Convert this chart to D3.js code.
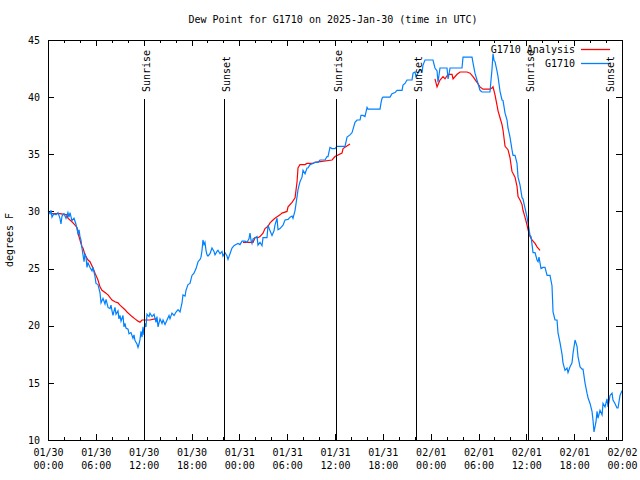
<!DOCTYPE html>
<html><head><meta charset="utf-8">
<script src="https://cdn.jsdelivr.net/npm/d3@7"></script>
<style>
body{margin:0;background:#fff}
svg{display:block}
text{font-family:"DejaVu Sans Mono","Liberation Mono",monospace;font-size:10px;fill:#000}
</style></head><body>
<svg id="c" width="640" height="480"></svg>
<script>
// hours since 2025-01-30 00:00 UTC
const obsHours=[0.0,0.25,0.38,0.5,0.75,1.0,1.25,1.5,1.63,1.76,2.0,2.26,2.5,2.63,2.76,3.0,3.26,3.5,3.76,3.89,4.01,4.14,4.26,4.52,4.64,4.77,4.89,5.02,5.27,5.52,5.64,5.9,6.02,6.27,6.52,6.65,6.9,7.15,7.28,7.53,7.78,7.9,8.03,8.15,8.4,8.53,8.78,8.9,9.03,9.16,9.41,9.53,9.66,9.78,10.04,10.16,10.41,10.66,10.79,10.91,11.16,11.29,11.42,11.54,11.67,11.79,11.92,12.04,12.17,12.29,12.42,12.67,12.79,13.05,13.3,13.55,13.67,13.8,14.05,14.3,14.43,14.68,14.93,15.18,15.3,15.55,15.81,16.06,16.31,16.56,16.81,16.93,17.19,17.31,17.56,17.81,18.06,18.31,18.57,18.82,19.07,19.19,19.32,19.44,19.57,19.69,19.82,19.95,20.07,20.32,20.57,20.82,20.95,21.2,21.32,21.58,21.83,21.95,22.2,22.45,22.58,22.83,23.08,23.33,23.58,23.83,24.08,24.34,24.71,24.96,25.21,25.34,25.46,25.59,25.72,25.97,26.22,26.34,26.59,26.84,26.97,27.47,27.6,27.85,28.1,28.35,28.47,28.73,28.85,29.1,29.48,29.73,30.11,30.36,30.61,30.73,30.99,31.24,31.36,31.61,31.86,31.99,32.24,32.49,32.61,32.87,33.24,33.49,33.87,34.12,34.75,35.0,35.12,35.37,35.63,36.0,36.25,37.26,37.51,37.88,38.14,38.51,38.76,39.14,39.26,39.51,39.76,40.02,40.14,41.65,41.77,41.9,42.02,42.9,43.15,43.53,43.78,44.41,44.53,44.78,45.03,45.66,45.79,46.04,46.16,46.41,46.66,46.92,47.04,47.29,48.29,48.54,48.8,48.92,49.17,50.05,50.18,50.3,50.43,51.93,52.06,53.19,53.31,53.56,53.81,54.19,54.44,55.44,55.57,55.69,55.82,55.95,56.07,56.32,56.45,56.7,56.95,57.08,57.33,57.58,57.7,57.95,58.2,58.33,58.58,58.83,58.96,59.21,59.46,59.58,59.83,60.09,60.21,60.46,60.59,60.84,61.09,61.34,61.47,61.59,61.84,62.09,62.34,62.6,62.97,63.22,63.35,63.6,63.85,63.97,64.23,64.48,64.6,64.85,65.1,65.23,65.48,65.73,65.86,66.11,66.36,66.48,66.74,66.99,67.11,67.36,67.61,67.74,67.99,68.24,68.36,68.49,68.74,68.87,68.99,69.24,69.5,69.62,69.87,70.12,70.25,70.5,70.75,70.87,71.12,71.37,71.5,71.75,72.0];
const obsDew=[30.0,29.8,30.1,29.5,29.8,29.7,29.9,29.4,28.9,29.6,29.8,29.4,29.9,29.5,29.9,29.2,29.4,28.9,28.1,28.4,27.8,27.5,26.8,25.6,26.3,26.0,25.1,25.5,25.1,24.8,25.1,24.3,23.7,23.6,22.9,22.0,22.4,21.9,22.3,21.6,21.5,21.8,21.3,20.9,21.6,21.0,21.3,20.6,20.9,20.4,20.9,19.9,20.2,19.8,19.7,19.3,19.4,18.9,19.2,18.7,18.4,18.1,18.4,18.8,19.5,19.0,19.9,19.2,20.2,19.9,21.0,20.8,21.1,20.8,21.0,20.3,20.8,19.9,20.6,20.2,20.5,20.1,20.5,20.9,20.6,21.1,20.9,21.2,21.4,21.2,22.0,22.7,22.6,23.1,23.6,23.7,24.4,24.6,25.0,25.6,25.8,26.0,26.6,27.5,27.1,27.3,26.6,26.2,26.1,26.3,26.8,26.5,26.2,26.5,26.6,26.3,26.5,26.1,26.4,26.1,25.8,26.3,26.8,27.0,27.1,27.2,27.1,27.4,27.4,27.3,27.6,28.1,27.5,27.2,27.6,27.7,27.8,27.05,27.3,27.0,27.7,27.7,28.8,28.3,27.9,28.3,28.8,29.4,28.4,28.5,28.8,29.25,29.3,29.5,29.6,29.4,30.1,31.3,31.9,32.6,33.0,33.6,33.3,33.8,33.8,34.1,34.2,34.3,34.3,34.5,34.5,34.8,34.8,35.6,35.5,35.5,35.7,35.7,36.5,36.7,36.9,37.8,38.0,38.0,38.4,38.4,38.3,39.1,38.95,38.95,39.5,39.9,40.0,40.0,40.3,40.4,40.6,40.6,41.05,41.2,41.5,41.5,42.1,42.2,41.8,42.1,42.4,42.2,42.8,43.25,43.25,42.55,42.3,41.3,42.55,42.55,41.6,42.0,42.55,42.55,43.5,43.5,43.0,42.1,41.5,40.6,40.45,40.45,41.5,42.4,43.8,43.2,43.1,42.3,41.8,40.5,39.75,39.7,38.6,38.0,37.3,36.5,35.4,34.9,34.9,34.2,33.0,32.3,31.2,31.1,30.3,29.5,29.0,27.9,27.8,26.4,26.4,25.75,25.6,26.0,25.0,25.1,25.1,24.4,24.4,23.5,21.2,20.5,20.5,19.4,18.5,17.5,16.75,16.1,16.3,15.9,16.4,16.75,17.6,18.75,18.2,17.3,16.4,16.2,16.2,15.0,14.1,13.7,13.2,12.5,11.75,10.7,11.6,12.5,11.9,12.6,12.2,13.2,12.9,13.6,12.9,13.9,14.1,13.5,13.2,12.8,12.8,13.9,14.3];
// analysis (null = no analysis available)
const anaHours=[0.5,1.5,2.38,2.5,3.0,3.14,3.64,3.76,4.01,4.26,4.39,4.64,5.02,5.27,5.64,5.9,6.27,6.52,6.77,7.15,7.53,8.03,8.4,8.78,9.03,9.66,9.91,10.54,10.91,11.29,11.54,11.79,12.79,13.42,13.67,13.8,24.46,25.72,25.97,26.34,26.59,26.97,27.22,27.6,27.85,28.22,28.47,29.1,29.35,29.98,30.11,30.61,30.99,31.24,31.36,31.61,32.24,32.49,33.24,33.49,35.63,36.0,36.88,37.01,37.88,38.0,48.54,48.8,49.17,49.55,49.8,50.18,50.68,50.81,51.31,51.68,52.56,52.94,53.31,53.81,54.19,54.56,55.44,55.69,55.82,56.07,56.32,56.45,56.7,56.95,57.08,57.33,57.7,57.95,58.2,58.58,58.83,58.96,59.21,59.46,59.58,59.83,60.09,60.21,60.46,60.71,61.09,61.34,61.72];
const anaDew=[29.8,29.8,29.7,29.4,29.1,29.0,28.6,28.1,27.5,26.9,26.8,26.2,25.75,25.6,25.05,24.6,24.0,23.4,23.1,22.9,22.7,22.25,22.1,22.0,21.8,21.4,21.2,20.8,20.6,20.4,20.3,20.5,20.5,20.6,20.6,null,27.3,27.3,27.7,27.7,27.8,28.1,28.5,28.7,29.0,29.25,29.4,29.7,29.85,30.0,30.4,30.8,31.2,32.6,33.8,34.1,34.1,34.2,34.2,34.3,34.5,34.8,35.1,35.5,35.9,null,41.6,40.9,41.5,41.8,41.6,42.0,42.0,41.6,42.0,42.2,42.2,42.1,41.8,41.3,40.9,40.7,40.7,40.8,40.9,40.2,39.3,38.8,38.2,37.6,37.1,35.7,35.4,34.7,33.5,33.0,32.2,31.3,31.0,30.6,30.1,29.5,28.8,28.4,27.8,27.5,27.2,26.9,26.6];
const sunHours=[12.04,22.08,36.13,46.16,60.21,70.25];
const sunLabels=["Sunrise","Sunset","Sunrise","Sunset","Sunrise","Sunset"];
const xTickHours=[0,6,12,18,24,30,36,42,48,54,60,66,72];
const xTickDates=["01/30","01/30","01/30","01/30","01/31","01/31","01/31","01/31","02/01","02/01","02/01","02/01","02/02"];
const xTickTimes=["00:00","06:00","12:00","18:00","00:00","06:00","12:00","18:00","00:00","06:00","12:00","18:00","00:00"];
const xMinorHours=[2,4,8,10,14,16,20,22,26,28,32,34,38,40,44,46,50,52,56,58,62,64,68,70];
const yTicks=[10,15,20,25,30,35,40,45];
const seriesNames=["G1710 Analysis","G1710"];
const seriesColors=["#ff0000","#0080ff"];
const titleText="Dew Point for G1710 on 2025-Jan-30 (time in UTC)";
const yLabel="degrees F";

const svg=d3.select("#c");
const L=48,R=622,T=40,B=440;
const x=d3.scaleLinear().domain([0,72]).range([L,R]);
const y=d3.scaleLinear().domain([10,45]).range([B,T]);

svg.append("rect").attr("width",640).attr("height",480).attr("fill","#fff");

// axes
const tickFmt=(d)=>"";
const gB=svg.append("g").attr("transform",`translate(0,${B})`)
  .call(d3.axisBottom(x).tickValues(xTickHours).tickSize(-6).tickPadding(6)
    .tickFormat((d,i)=>i));
gB.selectAll(".tick text").each(function(d,i){
  const t=d3.select(this); t.text(null).attr("y",null).attr("dy",null);
  t.append("tspan").attr("x",0).attr("y",16).text(xTickDates[i]);
  t.append("tspan").attr("x",0).attr("y",29).text(xTickTimes[i]);
});
svg.append("g").attr("transform",`translate(0,${B})`)
  .call(d3.axisBottom(x).tickValues(xMinorHours).tickSize(-3).tickFormat(tickFmt));
svg.append("g").attr("transform",`translate(0,${T})`)
  .call(d3.axisTop(x).tickValues(xTickHours).tickSize(-6).tickFormat(tickFmt));
svg.append("g").attr("transform",`translate(0,${T})`)
  .call(d3.axisTop(x).tickValues(xMinorHours).tickSize(-3).tickFormat(tickFmt));
svg.append("g").attr("transform",`translate(${L},0)`)
  .call(d3.axisLeft(y).tickValues(yTicks).tickSize(-6).tickPadding(8).tickFormat(d3.format("d")));
svg.append("g").attr("transform",`translate(${R},0)`)
  .call(d3.axisRight(y).tickValues(yTicks).tickSize(-6).tickFormat(tickFmt));
svg.selectAll(".domain").remove();
svg.selectAll(".tick line").attr("stroke","#000").attr("shape-rendering","crispEdges");
svg.selectAll(".tick text").attr("font-family",null).attr("font-size",null).attr("fill","#000");

// data
const obs=obsHours.map((h,i)=>({h,v:obsDew[i]}));
const ana=anaHours.map((h,i)=>({h,v:anaDew[i]}));
const line=d3.line().defined(d=>d.v!=null).x(d=>x(d.h)).y(d=>y(d.v));
svg.append("path").datum(ana).attr("d",line).attr("fill","none")
  .attr("stroke",seriesColors[0]).attr("stroke-width",1.2);
svg.append("path").datum(obs).attr("d",line).attr("fill","none")
  .attr("stroke",seriesColors[1]).attr("stroke-width",1.2);

// legend
const legTextY=[53,67];
const legLineY=[49.5,63.5];
seriesNames.forEach((n,i)=>{
  svg.append("text").attr("x",575).attr("y",legTextY[i]).attr("text-anchor","end").text(n);
  svg.append("path").attr("d",`M581,${legLineY[i]}H610`)
    .attr("fill","none").attr("stroke",seriesColors[i]).attr("stroke-width",1.3);
});

// sunrise / sunset
sunHours.forEach((h,i)=>{
  const xx=Math.round(x(h))+0.5;
  svg.append("line").attr("x1",xx).attr("x2",xx).attr("y1",99).attr("y2",B)
    .attr("stroke","#000").attr("stroke-width",1).attr("shape-rendering","crispEdges");
  svg.append("text").attr("transform",`translate(${xx+5},92) rotate(-90)`).text(sunLabels[i]);
});

// border
svg.append("rect").attr("x",L+0.5).attr("y",T+0.5).attr("width",R-L).attr("height",B-T)
  .attr("fill","none").attr("stroke","#000").attr("shape-rendering","crispEdges");

// title & y label
svg.append("text").attr("x",333).attr("y",23).attr("text-anchor","middle").text(titleText);
svg.append("text").attr("transform","translate(13,240) rotate(-90)").attr("text-anchor","middle").text(yLabel);
</script></body></html>
